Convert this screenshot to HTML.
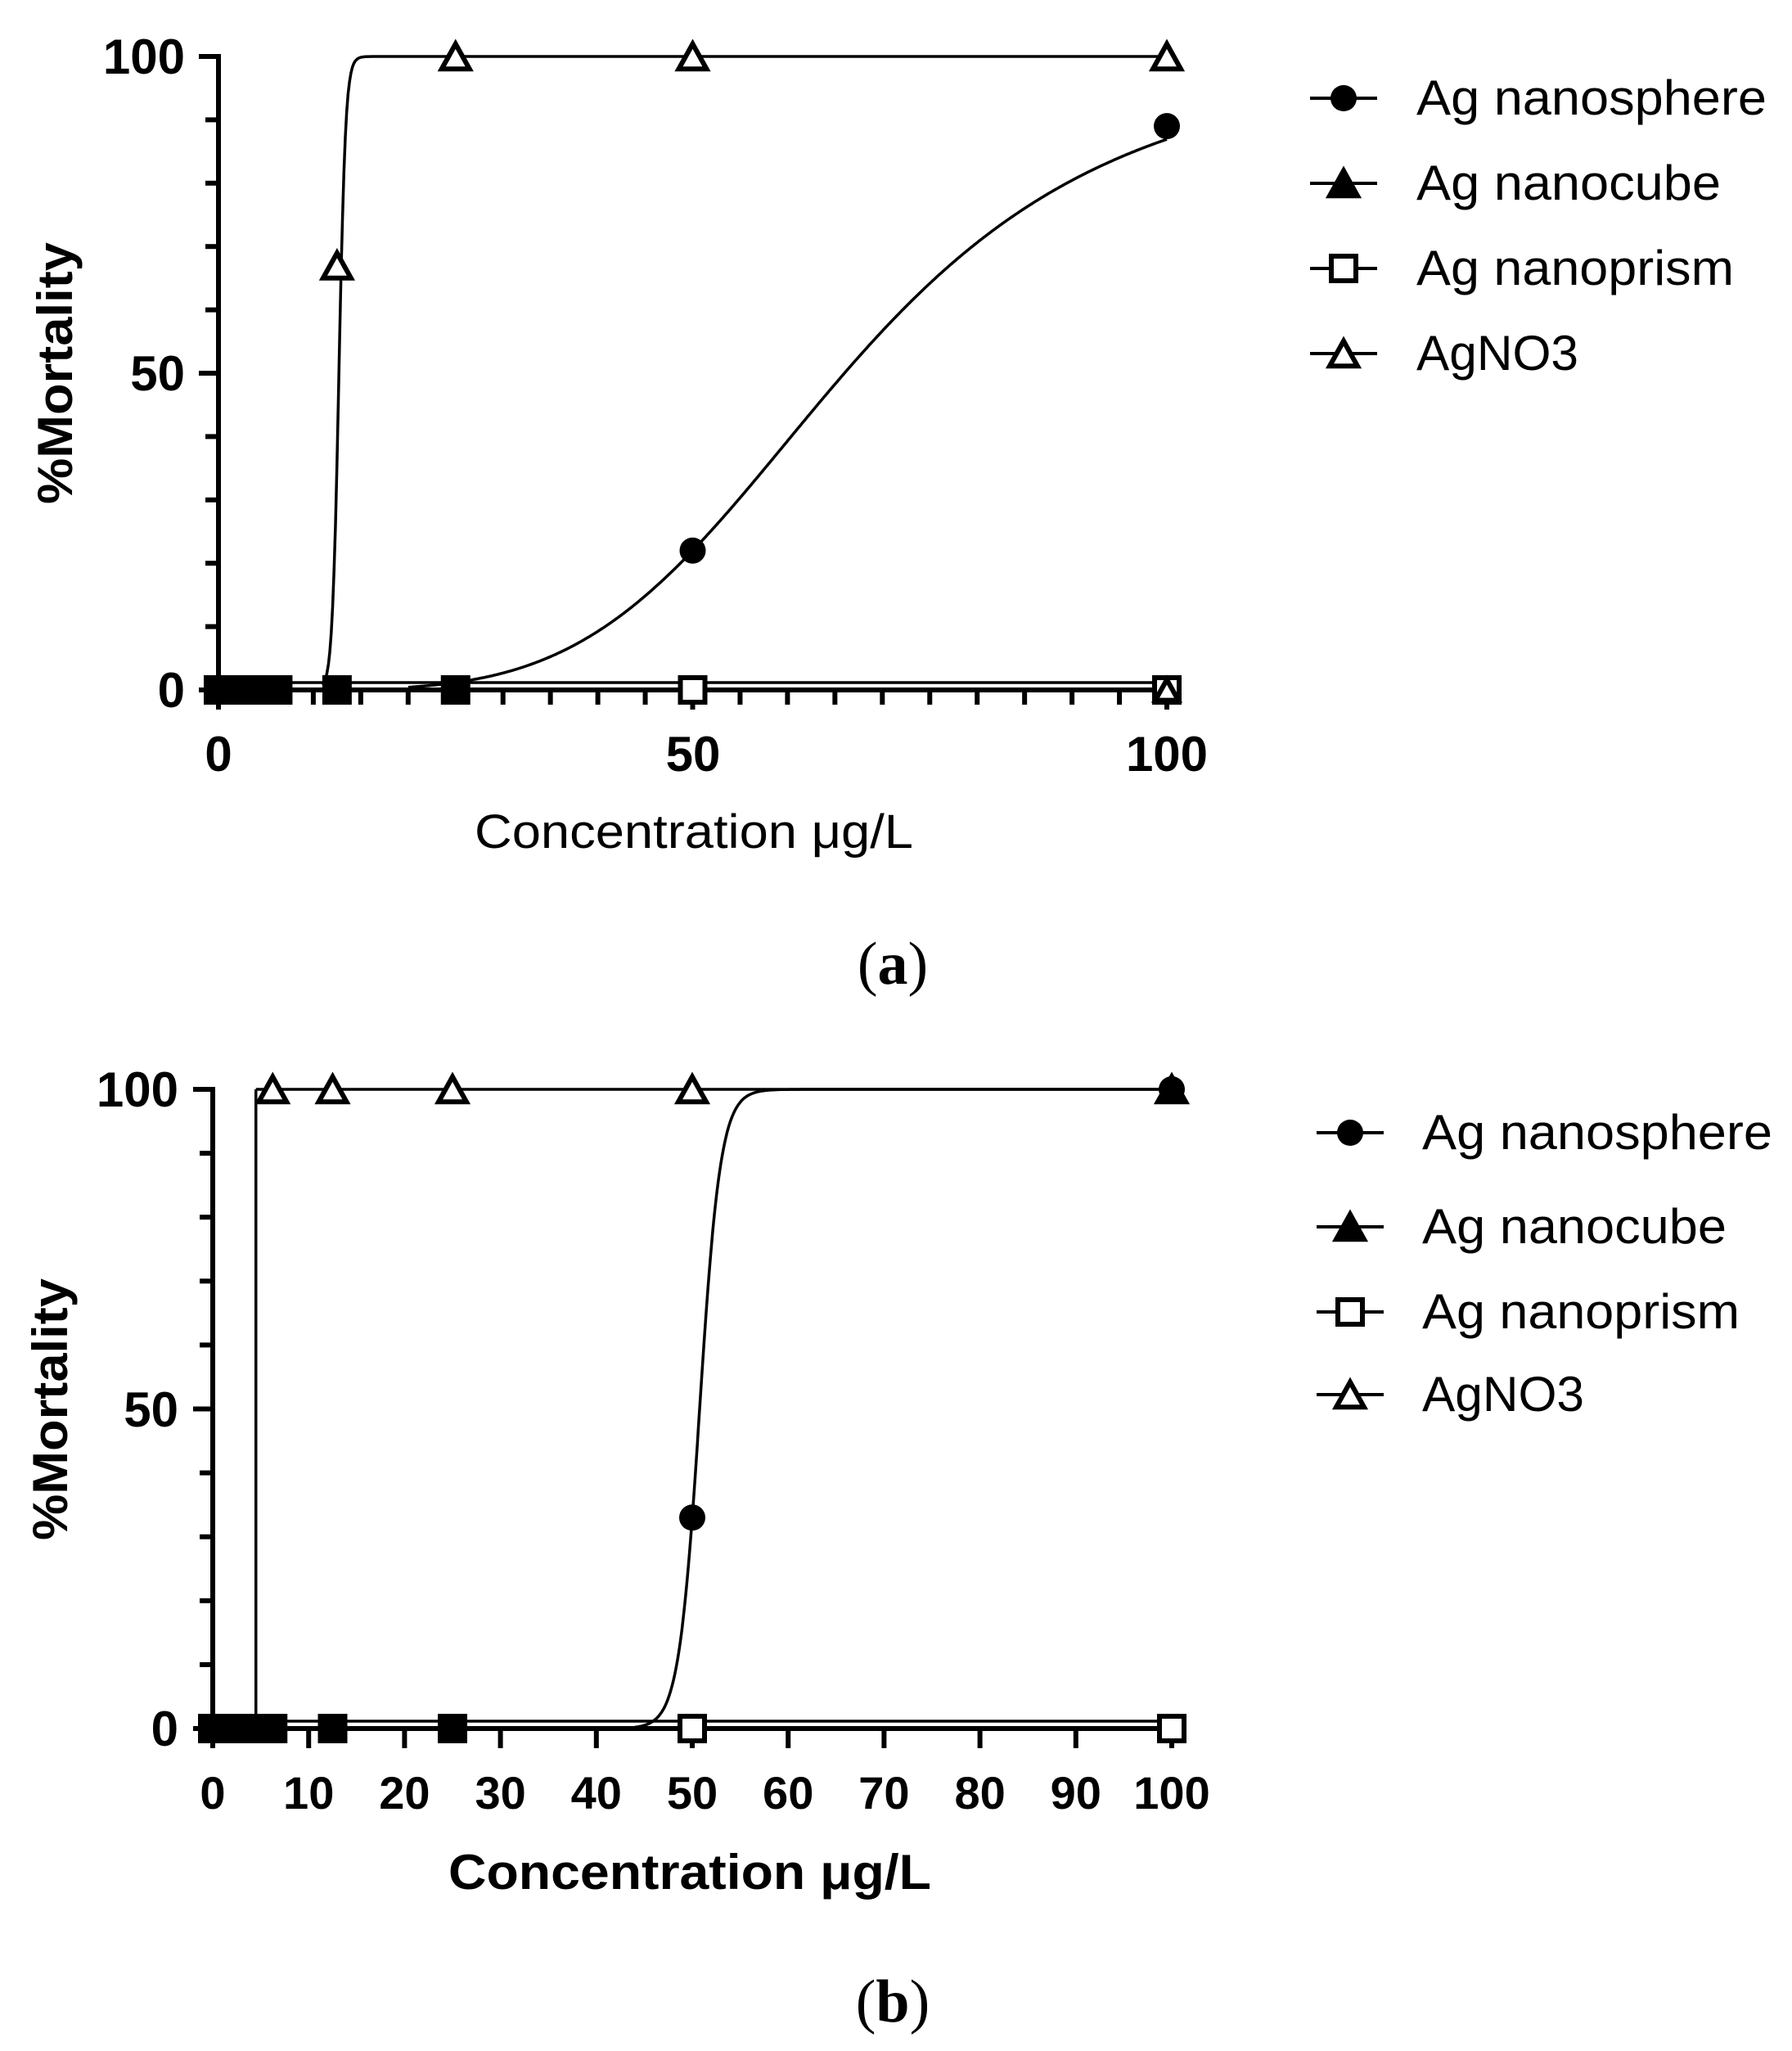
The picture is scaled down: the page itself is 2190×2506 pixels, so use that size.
<!DOCTYPE html>
<html><head><meta charset="utf-8"><style>
html,body{margin:0;padding:0;background:#fff;}
svg{display:block;}
text{font-family:"Liberation Sans",Arial,sans-serif;fill:#000;}
</style></head><body>
<svg id="s" width="2190" height="2506" viewBox="0 0 2190 2506" xmlns="http://www.w3.org/2000/svg">
<rect width="2190" height="2506" fill="#fff"/>
<g id="g"></g>
<g font-weight="bold" font-size="60" text-anchor="end">
<text x="226" y="90">100</text><text x="226" y="477">50</text><text x="226" y="864">0</text>
</g>
<g font-weight="bold" font-size="60" text-anchor="middle">
<text x="267" y="942">0</text><text x="847" y="942">50</text><text x="1426" y="942">100</text>
</g>
<text x="848" y="1036" font-size="58" text-anchor="middle" textLength="536" lengthAdjust="spacingAndGlyphs">Concentration μg/L</text>
<text transform="translate(88,456) rotate(-90)" font-size="60" font-weight="bold" text-anchor="middle" textLength="320" lengthAdjust="spacingAndGlyphs">%Mortality</text>
<text x="1091" y="1202" font-size="74" text-anchor="middle" style="font-family:'Liberation Serif',serif">(<tspan font-weight="bold">a</tspan>)</text>
<g font-weight="bold" font-size="60" text-anchor="end">
<text x="218" y="1352">100</text><text x="218" y="1743">50</text><text x="218" y="2133">0</text>
</g>
<g font-weight="bold" font-size="56" text-anchor="middle" id="bx"></g>
<text x="843" y="2308" font-size="60" font-weight="bold" text-anchor="middle" textLength="590" lengthAdjust="spacingAndGlyphs">Concentration μg/L</text>
<text transform="translate(82,1722) rotate(-90)" font-size="60" font-weight="bold" text-anchor="middle" textLength="320" lengthAdjust="spacingAndGlyphs">%Mortality</text>
<text x="1091" y="2470" font-size="74" text-anchor="middle" style="font-family:'Liberation Serif',serif">(<tspan font-weight="bold">b</tspan>)</text>
<g font-size="60">
<text x="1731" y="140" textLength="428" lengthAdjust="spacingAndGlyphs">Ag nanosphere</text>
<text x="1731" y="244" textLength="372" lengthAdjust="spacingAndGlyphs">Ag nanocube</text>
<text x="1731" y="348" textLength="388" lengthAdjust="spacingAndGlyphs">Ag nanoprism</text>
<text x="1731" y="452" textLength="198" lengthAdjust="spacingAndGlyphs">AgNO3</text>
<text x="1738" y="1404" textLength="428" lengthAdjust="spacingAndGlyphs">Ag nanosphere</text>
<text x="1738" y="1519" textLength="372" lengthAdjust="spacingAndGlyphs">Ag nanocube</text>
<text x="1738" y="1623" textLength="388" lengthAdjust="spacingAndGlyphs">Ag nanoprism</text>
<text x="1738" y="1724" textLength="198" lengthAdjust="spacingAndGlyphs">AgNO3</text>
</g>
</svg>
<script>
var NS="http://www.w3.org/2000/svg",G=document.getElementById('g');
function el(t,a){var e=document.createElementNS(NS,t);for(var k in a)e.setAttribute(k,a[k]);G.appendChild(e);return e;}
function line(x1,y1,x2,y2,w){el('line',{x1:x1,y1:y1,x2:x2,y2:y2,stroke:'#000','stroke-width':w||3.5});}
function circ(x,y,r){el('circle',{cx:x,cy:y,r:r||16,fill:'#000'});}
function sq(x,y,f,s){s=s||30;el('rect',{x:x-s/2,y:y-s/2,width:s,height:s,fill:f?'#000':'#fff',stroke:'#000','stroke-width':6});}
function tri(x,y,f,s){s=s||34;var h=s*0.9;el('polygon',{points:(x-s/2)+','+(y+h/2)+' '+(x+s/2)+','+(y+h/2)+' '+x+','+(y-h/2),fill:f?'#000':'#fff',stroke:'#000','stroke-width':6,'stroke-linejoin':'miter'});}
function curve(X,Y,f,a,b){var d='';for(var i=0;i<=600;i++){var x=a+(b-a)*i/600;d+=(i?'L':'M')+X(x).toFixed(1)+','+Y(f(x)).toFixed(1);}el('path',{d:d,fill:'none',stroke:'#000','stroke-width':3.5});}
function panel(x0,x1,y0,y1,type){
 var X=function(v){return x0+(x1-x0)*v/100},Y=function(v){return y0+(y1-y0)*v/100};
 line(x0,Y(100)-3,x0,y0+3,6); line(x0-3,y0,x1+3,y0,6);
 for(var v=0;v<=100;v+=10){var L=(v%50==0)?24:16;line(x0-L,Y(v),x0,Y(v),6);}
 if(type=='a'){for(var v=0;v<=100;v+=5){var L=(v%50==0)?24:18;line(X(v),y0,X(v),y0+L,6);}}
 else{for(var v=0;v<=100;v+=10){line(X(v),y0,X(v),y0+24,6);}}
 line(x0,y0-9,x1,y0-9,3.5); line(x0,y0,x1,y0,3.5);
 if(type=='a'){
  curve(X,Y,function(x){return 100/(1+Math.exp(-(x-12.7)/0.35));},11,100);
  curve(X,Y,function(x){return 100/(1+Math.pow(66/x,4.56));},20,100);
  [0,0.8,1.6,3.1,4.7,6.25].forEach(function(v){sq(X(v),y0,true);});
  sq(X(12.5),y0,true);sq(X(25),y0,true);
  sq(X(50),y0,false);sq(X(100),y0,false);tri(X(100),y0,false,28);
  tri(X(12.5),Y(67),false);tri(X(25),Y(100),false);tri(X(50),Y(100),false);tri(X(100),Y(100),false);
  circ(X(50),Y(22));circ(X(100),Y(89));
 } else {
  line(X(4.5),y0,X(4.5),Y(100),3.5); line(X(4.5),Y(100),x1,Y(100),3.5);
  curve(X,Y,function(x){return 100/(1+Math.exp(-(x-50.77)/1.09));},44,100);
  [0,0.8,1.6,3.1,4.7,6.25].forEach(function(v){sq(X(v),y0,true);});
  sq(X(12.5),y0,true);sq(X(25),y0,true);
  sq(X(50),y0,false);sq(X(100),y0,false);
  [6.25,12.5,25,50].forEach(function(v){tri(X(v),Y(100),false);});
  circ(X(100),Y(100));tri(X(100),Y(100),true);
  circ(X(50),Y(33));
 }
}
panel(267,1426,843,69,'a');
panel(260,1432,2112,1331,'b');
var bx=document.getElementById('bx');
for(var v=0;v<=100;v+=10){var t=document.createElementNS(NS,'text');t.setAttribute('x',260+(1432-260)*v/100);t.setAttribute('y',2210);t.textContent=v;bx.appendChild(t);}
function leg(x,y,k){line(x-41,y,x+41,y,4);if(k==0)circ(x,y,16);if(k==1)tri(x,y,true,34);if(k==2)sq(x,y,false,30);if(k==3)tri(x,y,false,34);}
[120,224,328,432].forEach(function(y,i){leg(1642,y,i);});
[1384,1499,1603,1704].forEach(function(y,i){leg(1650,y,i);});
</script>
</body></html>
